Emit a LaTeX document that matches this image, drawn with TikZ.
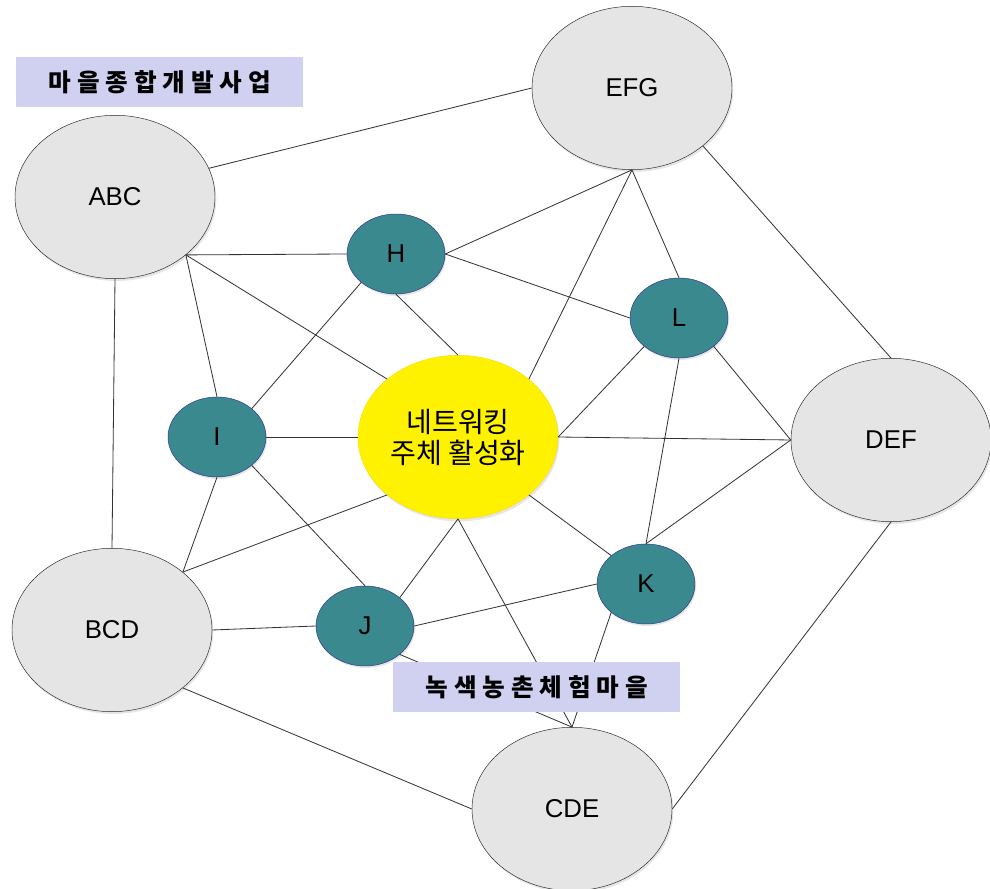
\documentclass[tikz,border=0pt]{standalone}
\usepackage{fontspec}
\setmainfont{Liberation Sans}
\newfontfamily\kr{Noto Sans CJK KR}
\newfontfamily\krtag{Noto Sans CJK KR}[LetterSpace=24]
\usetikzlibrary{shapes.geometric, shadows}
\definecolor{villagegray}{RGB}{229,229,229}
\definecolor{actorteal}{RGB}{58,137,142}
\definecolor{actorrim}{RGB}{50,50,150}
\definecolor{tagviolet}{RGB}{208,208,240}

\begin{document}
\begin{tikzpicture}[
  village/.style={ellipse, draw=black!85, fill=villagegray, minimum width=6cm, minimum height=4.9cm, inner sep=0pt, font=\fontsize{22}{26}\selectfont, drop shadow={opacity=0.2, shadow xshift=0.04cm, shadow yshift=-0.07cm}},
  actor/.style={ellipse, draw=actorrim, fill=actorteal, minimum width=2.94cm, minimum height=2.4cm, inner sep=0pt, font=\fontsize{22}{26}\selectfont, drop shadow={opacity=0.2, shadow xshift=0.03cm, shadow yshift=-0.06cm}},
  hub/.style={ellipse, draw=yellow!80!orange, fill=yellow, minimum width=6cm, minimum height=4.9cm, inner sep=0pt, align=center, font=\kr\fontsize{24}{26.5}\selectfont, drop shadow={opacity=0.2, shadow xshift=0.04cm, shadow yshift=-0.08cm}},
  tagbox/.style={fill=tagviolet, minimum width=8.6cm, minimum height=1.5cm, inner sep=0pt, font=\krtag\bfseries\fontsize{21}{24}\selectfont},
  link/.style={line width=0.7pt, black!80},
]
  \useasboundingbox (0,0) rectangle (29.7,26.64);
  % outer villages
  \node[village] (abc) at (3.45,20.73) {ABC};
  \node[village] (efg) at (18.96,24.0) {EFG};
  \node[village] (def) at (26.73,13.44) {DEF};
  \node[village] (bcd) at (3.36,7.74) {BCD};
  \node[village] (cde) at (17.16,2.37) {CDE};
  % actors
  \node[actor] (h) at (11.88,19.02) {H};
  \node[actor] (i) at (6.51,13.53) {I};
  \node[actor] (j) at (10.95,7.86) {J};
  \node[actor] (k) at (19.38,9.12) {K};
  \node[actor] (l) at (20.37,17.1) {L};
  \node[hub] (hub) at (13.74,13.53) {네트워킹\\주체 활성화};
  % links
  \draw[link] (abc.17) -- (efg.west); \draw[link] (abc.south) -- (bcd.north);
  \draw[link] (abc.south east) -- (h.west); \draw[link] (abc.south east) -- (i.north);
  \draw[link] (abc.south east) -- (hub.north west);
  \draw[link] (efg.south) -- (h.east); \draw[link] (efg.south) -- (l.north);
  \draw[link] (efg.south) -- (hub.north east); \draw[link] (efg.south east) -- (def.north);
  \draw[link] (h.south) -- (hub.north); \draw[link] (h.south west) -- (i.north east);
  \draw[link] (h.east) -- (l.west);
  \draw[link] (l.south west) -- (hub.east); \draw[link] (l.south east) -- (def.west);
  \draw[link] (l.south) -- (k.north);
  \draw[link] (i.east) -- (hub.west); \draw[link] (hub.east) -- (def.west);
  \draw[link] (bcd.north east) -- (hub.south west); \draw[link] (j.north east) -- (hub.south);
  \draw[link] (hub.south) -- (cde.north); \draw[link] (hub.south east) -- (k.north west);
  \draw[link] (k.north) -- (def.west); \draw[link] (def.south) -- (cde.east);
  \draw[link] (i.south) -- (bcd.north east); \draw[link] (i.south east) -- (j.north);
  \draw[link] (bcd.east) -- (j.west); \draw[link] (bcd.south east) -- (cde.west);
  \draw[link] (j.east) -- (k.west); \draw[link] (j.south east) -- (cde.north);
  \draw[link] (k.south west) -- (cde.north);
  % tags
  \node[tagbox] (tagdev) at (4.79,24.18) {마을종합개발사업};
  \node[tagbox] (tagfarm) at (16.1,6.02) {녹색농촌체험마을};
\end{tikzpicture}
\end{document}
